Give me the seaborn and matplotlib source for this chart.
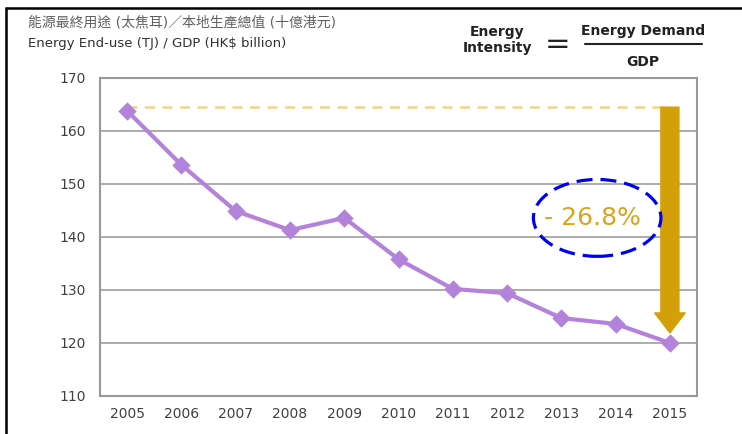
import numpy as np
import pandas as pd
import matplotlib
matplotlib.use("Agg")
import matplotlib.pyplot as plt
import seaborn as sns
from matplotlib.patches import Ellipse, FancyArrowPatch
from matplotlib.lines import Line2D

# data
years = ["2005", "2006", "2007", "2008", "2009", "2010",
         "2011", "2012", "2013", "2014", "2015"]
intensity = [163.8, 153.6, 144.9, 141.3, 143.6, 135.8,
             130.2, 129.4, 124.7, 123.6, 120.0]
y_ticks = [110, 120, 130, 140, 150, 160, 170]
change_label = "- 26.8%"

title_zh = "能源最終用途 (太焦耳)／本地生產總值 (十億港元)"
title_en = "Energy End-use (TJ) / GDP (HK$ billion)"

purple = "#B383DC"
gold = "#D4A00A"
grid_gray = "#A6A6A6"
text_gray = "#404040"

sns.set_style("white")
plt.rcParams["font.family"] = ["DejaVu Sans", "Noto Sans CJK TC"]

df = pd.DataFrame({"year": years, "value": intensity})

fig = plt.figure(figsize=(7.42, 4.34), dpi=100)
ax = fig.add_axes([0.1348, 0.0876, 0.9394 - 0.1348, 0.8203 - 0.0876])

for v in y_ticks:
    ax.axhline(v, color=grid_gray, lw=1.3, zorder=0)

sns.pointplot(data=df, x="year", y="value", color=purple, markers="D",
              linestyles="-", markersize=7.5, linewidth=3, ax=ax, zorder=3)

ax.set_xlim(-0.5, len(years) - 0.5)
ax.set_ylim(y_ticks[0], y_ticks[-1])
ax.set_yticks(y_ticks)
ax.set_xlabel("")
ax.set_ylabel("")
for s in ax.spines.values():
    s.set_color("#999999")
    s.set_linewidth(1.5)
ax.tick_params(axis="y", length=4, color=grid_gray, labelsize=10,
               labelcolor=text_gray, pad=6)
ax.tick_params(axis="x", length=0, labelsize=10, labelcolor=text_gray, pad=8)
ax.set_xticks(np.arange(len(years) + 1) - 0.5, minor=True)
ax.tick_params(axis="x", which="minor", length=4, color=grid_gray)

# reference dashed line at 2005 level
start_val = 164.5
ax.plot([0, len(years) - 1], [start_val, start_val], ls=(0, (4, 3)),
        color="#F0D48C", lw=1.8, zorder=2)

# big gold arrow
arrow = FancyArrowPatch((len(years) - 1, start_val), (len(years) - 1, 121.9),
                        arrowstyle="simple,head_length=0.72,head_width=1.1,tail_width=0.65",
                        mutation_scale=20, color=gold, shrinkA=0, shrinkB=0, zorder=4)
ax.add_patch(arrow)

# dashed ellipse with change label
ax.add_patch(Ellipse((8.66, 143.6), 2.35, 14.5, fill=False, edgecolor="#0000F0",
                     lw=2.3, ls=(0, (5, 2.5)), zorder=5))
ax.text(8.58, 143.6, change_label, color="#D9A521", fontsize=18,
        ha="center", va="center", zorder=6)

# header titles
fig.text(28 / 742, 1 - 22 / 434, title_zh, fontsize=10, color="#606060",
         va="center", ha="left")
fig.text(28 / 742, 1 - 44 / 434, title_en, fontsize=9.5, color="#303030",
         va="center", ha="left")

# formula
fig.text(497 / 742, 1 - 40 / 434, "Energy\nIntensity", fontsize=10,
         fontweight="bold", color="#222222", ha="center", va="center",
         linespacing=1.25)
fig.text(558 / 742, 1 - 44 / 434, "=", fontsize=22, color="#222222",
         ha="center", va="center")
fig.text(643 / 742, 1 - 31 / 434, "Energy Demand", fontsize=10,
         fontweight="bold", color="#222222", ha="center", va="center")
fig.text(643 / 742, 1 - 62 / 434, "GDP", fontsize=10, fontweight="bold",
         color="#222222", ha="center", va="center")
fig.add_artist(Line2D([585 / 742, 702 / 742], [1 - 44 / 434, 1 - 44 / 434],
                      color="#222222", lw=1.5))

# frame lines (top and left)
fig.add_artist(Line2D([6 / 742, 1], [1 - 7.5 / 434, 1 - 7.5 / 434],
                      color="black", lw=1.8))
fig.add_artist(Line2D([6 / 742, 6 / 742], [0, 1 - 7.5 / 434],
                      color="black", lw=1.8))

fig.savefig("out.png", dpi=100)
